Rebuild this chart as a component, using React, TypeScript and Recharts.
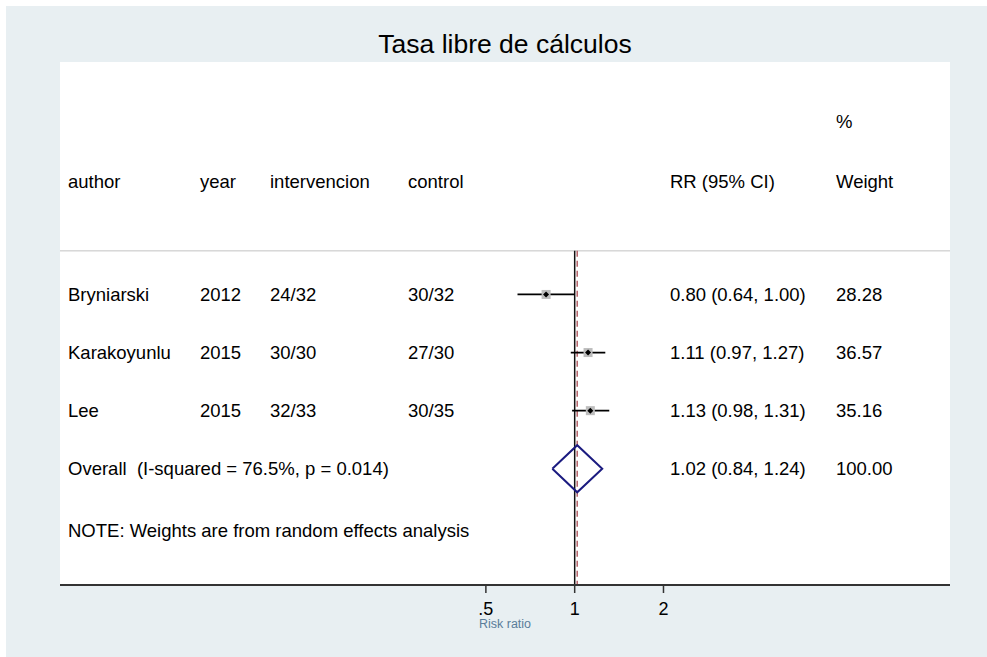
import {
  ComposedChart,
  Scatter,
  XAxis,
  YAxis,
  CartesianGrid,
  ReferenceLine,
} from "recharts";

// Study data
const authors = ["Bryniarski", "Karakoyunlu", "Lee"];
const years = ["2012", "2015", "2015"];
const intervencion = ["24/32", "30/30", "32/33"];
const control = ["30/32", "27/30", "30/35"];
const rr = [0.8, 1.11, 1.13];
const ciLow = [0.64, 0.97, 0.98];
const ciHigh = [1.0, 1.27, 1.31];
const weights = [28.28, 36.57, 35.16];

// Pooled estimate
const overallRR = 1.02;
const overallLow = 0.84;
const overallHigh = 1.24;
const overallLabel = "Overall  (I-squared = 76.5%, p = 0.014)";
const noteLabel = "NOTE: Weights are from random effects analysis";

const xTicks = [0.5, 1, 2];
const xTickLabels = [".5", "1", "2"];

const FONT = "'Liberation Sans', Arial, Helvetica, sans-serif";
const W = 981;
const H = 651;

// row positions (y axis runs top to bottom, one unit per row)
const studyRowY = [4, 5, 6];
const overallY = 7;
const DIAMOND_HALF = 0.405;

const COLS: Record<string, number> = {
  author: 62,
  year: 194,
  intervencion: 264,
  control: 402,
  rr: 664,
  weight: 830,
};

const fmt = (v: number) => v.toFixed(2);

const tableRows: any[] = [
  { x: 1, y: 1.03, weight: "%" },
  {
    x: 1,
    y: 2.05,
    author: "author",
    year: "year",
    intervencion: "intervencion",
    control: "control",
    rr: "RR (95% CI)",
    weight: "Weight",
  },
  ...authors.map((a, i) => ({
    x: 1,
    y: studyRowY[i],
    author: a,
    year: years[i],
    intervencion: intervencion[i],
    control: control[i],
    rr: `${fmt(rr[i])} (${fmt(ciLow[i])}, ${fmt(ciHigh[i])})`,
    weight: fmt(weights[i]),
  })),
  {
    x: 1,
    y: overallY,
    author: overallLabel,
    rr: `${fmt(overallRR)} (${fmt(overallLow)}, ${fmt(overallHigh)})`,
    weight: "100.00",
  },
  { x: 1, y: 8.07, author: noteLabel },
];

const studyPoints = rr.map((v, i) => ({ x: v, y: studyRowY[i] }));

const diamond = [
  { x: overallLow, y: overallY },
  { x: overallRR, y: overallY - DIAMOND_HALF },
  { x: overallHigh, y: overallY },
  { x: overallRR, y: overallY + DIAMOND_HALF },
  { x: overallLow, y: overallY },
];

const TextRow = (props: any) => {
  const { cy, payload } = props;
  return (
    <g>
      {Object.keys(COLS).map((k) =>
        payload[k] ? (
          <text
            key={k}
            x={COLS[k]}
            y={cy}
            dominantBaseline="central"
            fontSize={18.5}
            fontFamily={FONT}
            fill="#000"
            style={{ whiteSpace: "pre" }}
          >
            {payload[k]}
          </text>
        ) : null
      )}
    </g>
  );
};

const StudyMarker = (props: any) => {
  const { cx, cy } = props;
  return (
    <g>
      <rect x={cx - 4.5} y={cy - 4.5} width={9} height={9} fill="#bdbdbd" />
      <path
        d={`M${cx - 3},${cy} L${cx},${cy - 3} L${cx + 3},${cy} L${cx},${cy + 3} Z`}
        fill="#000"
      />
    </g>
  );
};

export default function App() {
  return (
    <div
      style={{
        position: "absolute",
        left: 0,
        top: 0,
        width: 987,
        height: 657,
        background: "#fff",
      }}
    >
      <div
        style={{
          position: "absolute",
          left: 6,
          top: 6,
          width: W,
          height: H,
          background: "#e8eff2",
        }}
      >
        <div
          style={{
            position: "absolute",
            left: 54,
            width: 890,
            top: 23,
            textAlign: "center",
            fontFamily: FONT,
            fontSize: 26.5,
            color: "#000",
          }}
        >
          Tasa libre de cálculos
        </div>
        <ComposedChart
          width={W}
          height={H}
          margin={{ top: 56, right: 37, bottom: 22, left: 54 }}
          style={{ position: "absolute", left: 0, top: 0 }}
        >
          <CartesianGrid
            horizontal={false}
            vertical={false}
            fill="#fff"
            stroke="none"
          />
          <XAxis
            dataKey="x"
            type="number"
            scale="log"
            domain={[0.018, 18.72]}
            allowDataOverflow
            ticks={xTicks}
            tickFormatter={(v: number) => xTickLabels[xTicks.indexOf(v)] ?? String(v)}
            height={50}
            tickSize={8}
            tickMargin={9}
            axisLine={{ stroke: "#333", strokeWidth: 2 }}
            tickLine={{ stroke: "#333", strokeWidth: 1.5 }}
            tick={{ fill: "#000", fontSize: 18, fontFamily: FONT }}
            label={{
              value: "Risk ratio",
              position: "insideBottom",
              offset: 7,
              fill: "#5a7d9a",
              fontSize: 12.5,
              fontFamily: FONT,
            }}
          />
          <YAxis
            dataKey="y"
            type="number"
            domain={[0, 9]}
            reversed
            hide
            allowDataOverflow
          />
          <ReferenceLine y={3.25} stroke="#c2c2c2" strokeWidth={1} />
          <ReferenceLine
            segment={[
              { x: 1, y: 3.25 },
              { x: 1, y: 9 },
            ]}
            stroke="#111"
            strokeWidth={1.5}
          />
          <ReferenceLine
            segment={[
              { x: overallRR, y: 3.25 },
              { x: overallRR, y: 9 },
            ]}
            stroke="#b5646b"
            strokeWidth={1.5}
            strokeDasharray="6 4"
          />
          {rr.map((_, i) => (
            <ReferenceLine
              key={`ci-${i}`}
              segment={[
                { x: ciLow[i], y: studyRowY[i] },
                { x: ciHigh[i], y: studyRowY[i] },
              ]}
              stroke="#000"
              strokeWidth={1.8}
            />
          ))}
          <Scatter
            data={studyPoints}
            shape={StudyMarker}
            isAnimationActive={false}
          />
          <Scatter
            data={diamond}
            line={{ stroke: "#1b1b80", strokeWidth: 2 }}
            lineType="joint"
            shape={() => <g />}
            isAnimationActive={false}
          />
          <Scatter
            data={tableRows}
            shape={TextRow}
            isAnimationActive={false}
          />
        </ComposedChart>
      </div>
    </div>
  );
}
